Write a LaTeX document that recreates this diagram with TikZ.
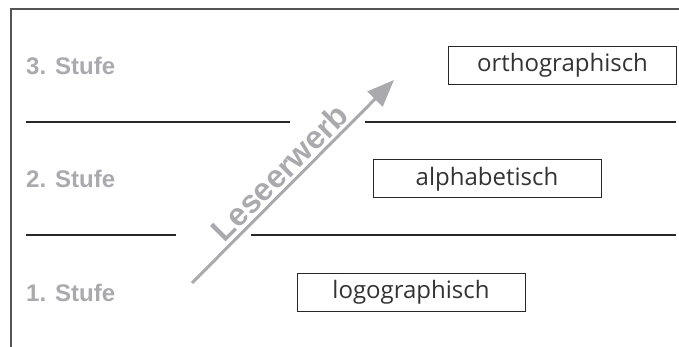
\documentclass[tikz,border=0pt]{standalone}
\usepackage{fontspec}
\setmainfont{Open Sans}
\newfontfamily\boldsans{Liberation Sans}
\usetikzlibrary{arrows.meta,calc}
\definecolor{stufegray}{RGB}{170,170,174}
\definecolor{framegray}{RGB}{85,85,85}
\definecolor{sepgray}{RGB}{40,40,40}
\tikzset{
  stufe/.style={font=\boldsans\bfseries\fontsize{24}{28}\selectfont, text=stufegray, anchor=west, inner sep=0pt},
  levelbox/.style={draw=sepgray, line width=1pt, minimum width=228pt, minimum height=38pt, inner sep=0pt, font=\fontsize{24}{28}\selectfont, text=black!80},
  sepline/.style={draw=sepgray, line width=1.2pt},
  framel/.style={draw=framegray, line width=1.6pt},
  arr/.style={draw=stufegray, line width=3pt, -{Triangle[length=27pt,width=21pt]}}
}
\begin{document}
\begin{tikzpicture}[x=1pt,y=-1pt]
\useasboundingbox (0,0) rectangle (679,347);
% frame
\coordinate (fbl) at (11,347);
\coordinate (ftl) at (11,9);
\coordinate (ftr) at (679,9);
\draw[framel] (fbl) -- (ftl) -- (ftr);
% separator lines
\coordinate (a1) at (26,122); \coordinate (a2) at (290,122);
\coordinate (a3) at (365,122); \coordinate (a4) at (676,122);
\coordinate (b1) at (26,235); \coordinate (b2) at (176,235);
\coordinate (b3) at (251,235); \coordinate (b4) at (676,235);
\draw[sepline] (a1) -- (a2);
\draw[sepline] (a3) -- (a4);
\draw[sepline] (b1) -- (b2);
\draw[sepline] (b3) -- (b4);
% level labels
\node[stufe] (s3) at (26,66) {3. Stufe};
\node[stufe] (s2) at (26,179) {2. Stufe};
\node[stufe] (s1) at (26,293) {1. Stufe};
% boxes
\node[levelbox] (ortho) at (562.5,65.5) {orthographisch};
\node[levelbox] (alpha) at (487,179) {alphabetisch};
\node[levelbox] (logo) at (411,292) {logographisch};
% arrow
\coordinate (as) at (192,283);
\coordinate (ae) at (394,80);
\coordinate (am) at ($(as)!0.49!(ae)$);
\draw[arr] (as) -- (ae);
\node[font=\boldsans\bfseries\fontsize{32}{36}\selectfont, text=stufegray, rotate=45, anchor=south, inner sep=0pt, yshift=4pt] (lw) at (am) {Leseerwerb};
\end{tikzpicture}
\end{document}
